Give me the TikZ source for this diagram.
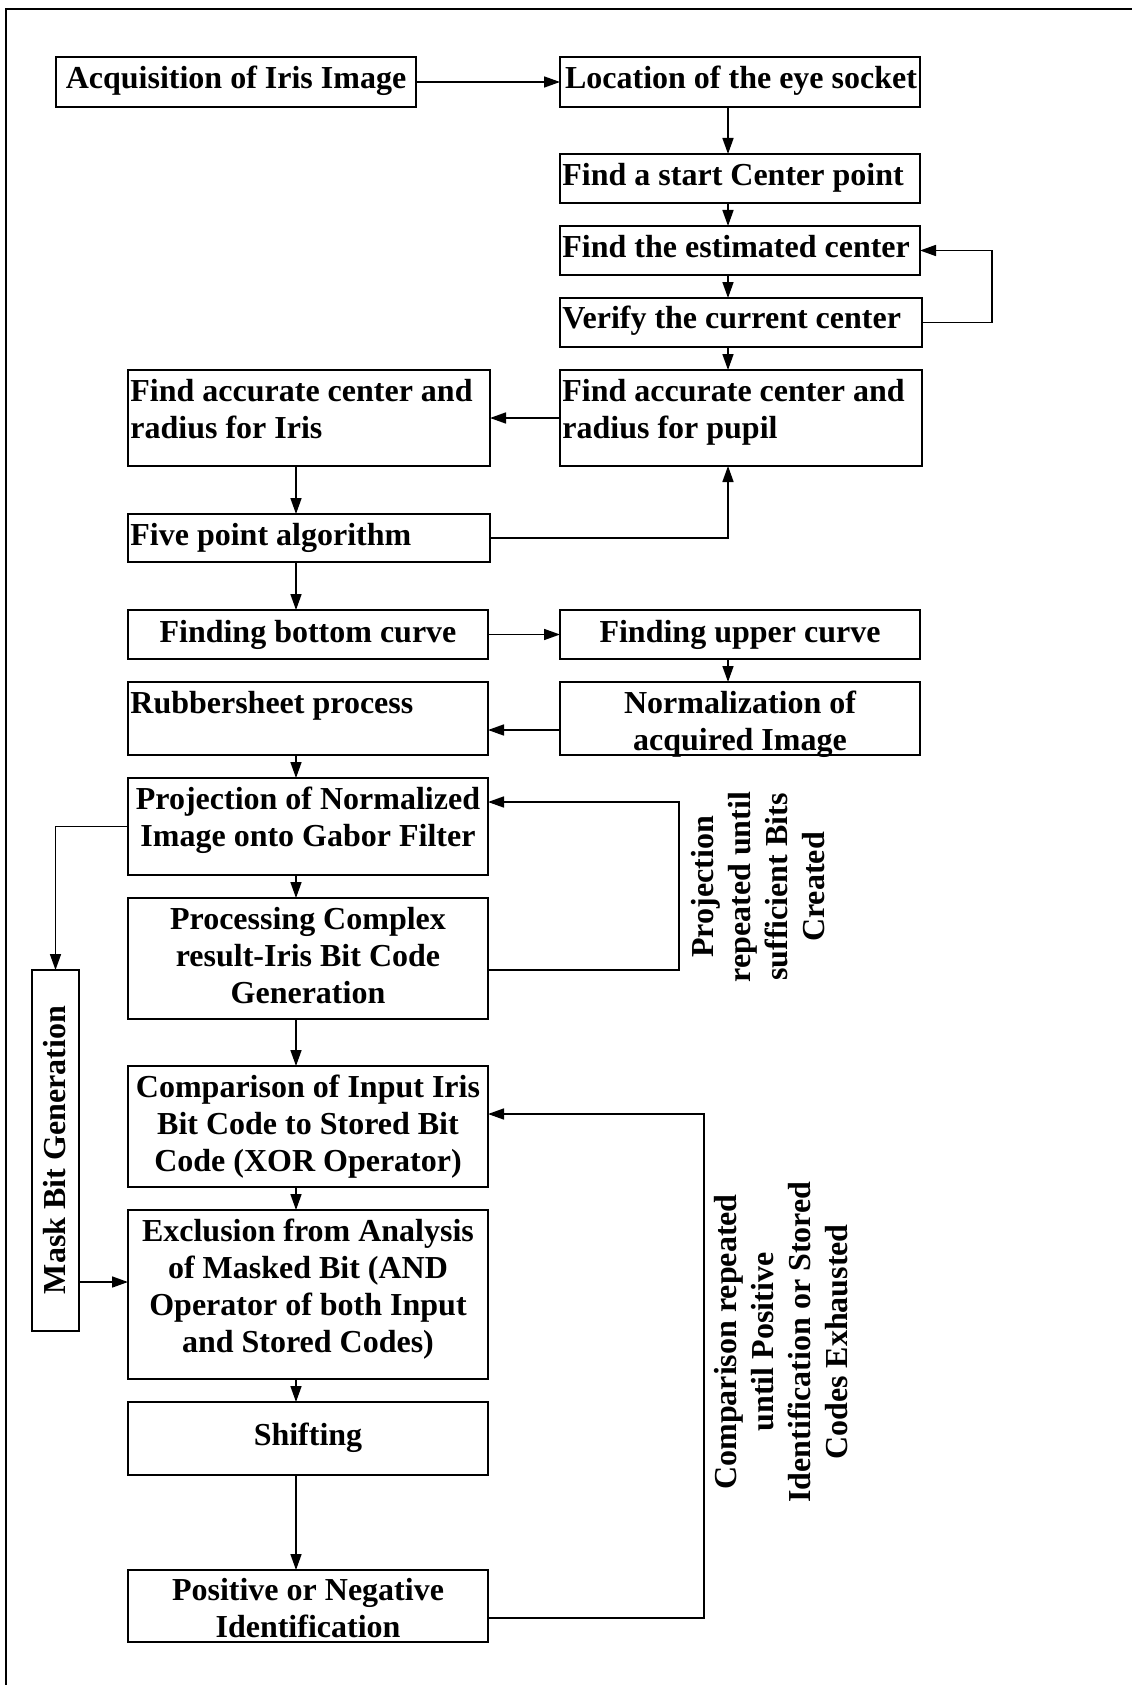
\documentclass[tikz,border=0pt]{standalone}
\usepackage{fontspec}
\setmainfont{Liberation Serif}
\usetikzlibrary{arrows.meta,fit}
\begin{document}
\begin{tikzpicture}[x=0.5pt,y=-0.5pt,
  box/.style={draw,line width=0.9pt,inner sep=0pt,outer sep=0pt},
  txt/.style={inner sep=0pt,font=\bfseries\fontsize{16}{18.5}\selectfont},
  tl/.style={txt,align=left,anchor=base west},
  tc/.style={txt,align=center,anchor=base},
  rot/.style={txt,align=center,rotate=90},
  arr/.style={line width=0.8pt,-{Triangle[length=8pt,width=5.5pt]}},
  ln/.style={line width=0.8pt}]
\useasboundingbox (0,0) rectangle (1131,1685);
% outer frame
\draw[line width=1pt] (6,1700) -- (6,9) -- (1140,9);

% boxes
\node[box,fit={(56,57) (416,107)}] (acq) {};
\node[box,fit={(560,57) (920,107)}] (loc) {};
\node[box,fit={(560,154) (920,203)}] (start) {};
\node[box,fit={(560,226) (920,275)}] (est) {};
\node[box,fit={(560,298) (922,347)}] (ver) {};
\node[box,fit={(560,370) (922,466)}] (pupil) {};
\node[box,fit={(128,370) (490,466)}] (iris) {};
\node[box,fit={(128,514) (490,562)}] (five) {};
\node[box,fit={(128,610) (488,659)}] (bottom) {};
\node[box,fit={(560,610) (920,659)}] (upper) {};
\node[box,fit={(560,682) (920,755)}] (norm) {};
\node[box,fit={(128,682) (488,755)}] (rubber) {};
\node[box,fit={(128,778) (488,875)}] (proj) {};
\node[box,fit={(128,898) (488,1019)}] (proc) {};
\node[box,fit={(128,1066) (488,1187)}] (comp) {};
\node[box,fit={(128,1210) (488,1379)}] (excl) {};
\node[box,fit={(128,1402) (488,1475)}] (shift) {};
\node[box,fit={(128,1570) (488,1642)}] (pos) {};
\node[box,fit={(32,970) (79,1331)}] (mask) {};

% box texts (anchored at the baseline of their last line)
\node[tc] (acq-t) at (236,89) {Acquisition of Iris Image};
\node[tc] (loc-t) at (741,89) {Location of the eye socket};
\node[tl] (start-t) at (562,186) {Find a start Center point};
\node[tl] (est-t) at (562,257) {Find the estimated center};
\node[tl] (ver-t) at (562,328) {Verify the current center};
\node[tl] (pupil-t) at (562,438) {Find accurate center and\\radius for pupil};
\node[tl] (iris-t) at (130,438) {Find accurate center and\\radius for Iris};
\node[tl] (five-t) at (130,545) {Five point algorithm};
\node[tc] (bottom-t) at (308,642) {Finding bottom curve};
\node[tc] (upper-t) at (740,642) {Finding upper curve};
\node[tl] (rubber-t) at (130,713) {Rubbersheet process};
\node[tc] (norm-t) at (740,750) {Normalization of\\acquired Image};
\node[tc] (proj-t) at (308,846) {Projection of Normalized\\Image onto Gabor Filter};
\node[tc] (proc-t) at (308,1003) {Processing Complex\\result-Iris Bit Code\\Generation};
\node[tc] (comp-t) at (308,1171) {Comparison of Input Iris\\Bit Code to Stored Bit\\Code (XOR Operator)};
\node[tc] (excl-t) at (308,1352) {Exclusion from Analysis\\of Masked Bit (AND\\Operator of both Input\\and Stored Codes)};
\node[tc] (shift-t) at (308,1445) {Shifting};
\node[tc] (pos-t) at (308,1637) {Positive or Negative\\Identification};
\node[rot] (mask-t) at (55,1150) {Mask Bit Generation};

% loop labels
\node[rot] (projloop-t) at (758,887) {Projection\\repeated until\\sufficient Bits\\Created};
\node[rot] (comploop-t) at (781,1342) {Comparison repeated\\until Positive\\Identification or Stored\\Codes Exhausted};

% column guides for the vertical connectors
\coordinate (rc) at (728,0);
\coordinate (lc) at (296,0);

% connectors
\draw[arr] (acq.east) -- (loc.west);
\draw[arr] (loc.south -| rc) -- (start.north -| rc);
\draw[arr] (start.south -| rc) -- (est.north -| rc);
\draw[arr] (est.south -| rc) -- (ver.north -| rc);
\draw[arr] (ver.south -| rc) -- (pupil.north -| rc);
\draw[arr] (ver.east) -- ++(70,0) |- (est.east);
\draw[arr] (pupil.west) -- (iris.east);
\draw[arr] (iris.south -| lc) -- (five.north -| lc);
\draw[arr] (five.east) -| (pupil.south -| rc);
\draw[arr] (five.south -| lc) -- (bottom.north -| lc);
\draw[arr] (bottom.east) -- (upper.west);
\draw[arr] (upper.south -| rc) -- (norm.north -| rc);
\draw[arr] (norm.west |- 0,730) -- (rubber.east |- 0,730);
\draw[arr] (rubber.south -| lc) -- (proj.north -| lc);
\draw[arr] (proj.south -| lc) -- (proc.north -| lc);
\draw[arr] (proc.south -| lc) -- (comp.north -| lc);
\draw[arr] (comp.south -| lc) -- (excl.north -| lc);
\draw[arr] (excl.south -| lc) -- (shift.north -| lc);
\draw[arr] (shift.south -| lc) -- (pos.north -| lc);
\draw[arr] (proc.east |- 0,970) -- (679,970) -- (679,802) -- (proj.east |- 0,802);
\draw[arr] (proj.west) -| (mask.north);
\draw[arr] (mask.east |- 0,1282) -- (excl.west |- 0,1282);
\draw[arr] (pos.east |- 0,1618) -- (704,1618) -- (704,1114) -- (comp.east |- 0,1114);
\end{tikzpicture}
\end{document}
